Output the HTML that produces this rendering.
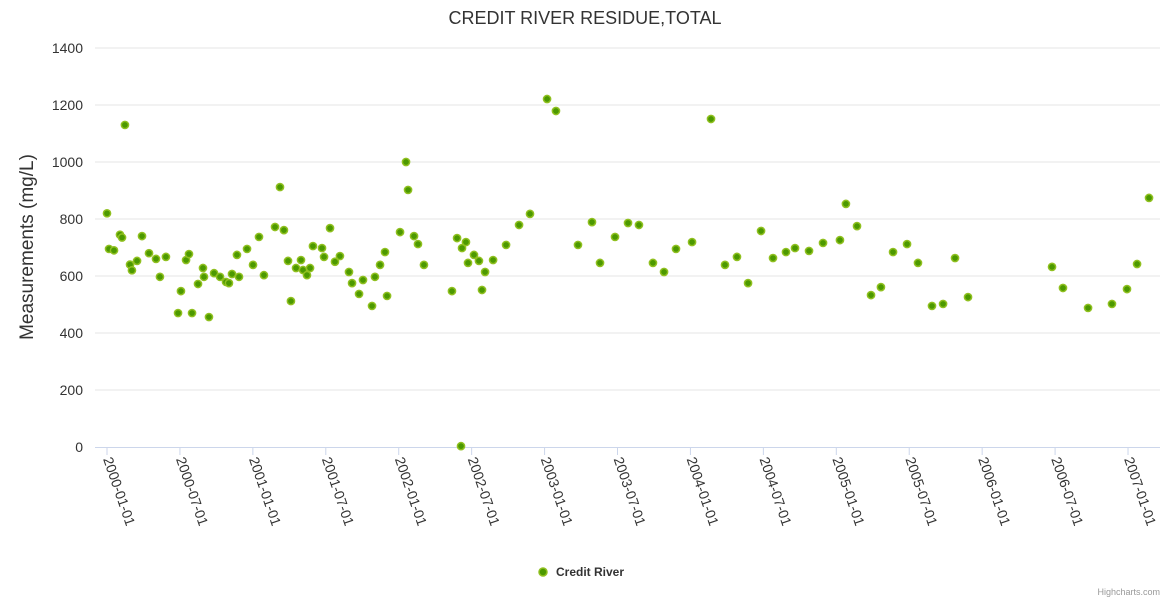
<!DOCTYPE html>
<html><head><meta charset="utf-8"><style>
body{margin:0;background:#fff;font-family:"Liberation Sans",sans-serif}
</style></head><body>
<svg id="c" width="1170" height="600" xmlns="http://www.w3.org/2000/svg" style="display:block">
<text x="585" y="24" text-anchor="middle" font-size="18" fill="#333">CREDIT RIVER RESIDUE,TOTAL</text>
<text transform="translate(33,247) rotate(-90)" text-anchor="middle" font-size="19" fill="#333">Measurements (mg/L)</text>
<g id="grid"></g><g id="xax"></g><g id="pts"></g>
<g>
<circle cx="543" cy="572" r="4" fill="#4c9900" stroke="#90c020" stroke-width="1.5"/>
<text x="556" y="576" font-size="12" font-weight="bold" fill="#333">Credit River</text></g>
<text x="1160" y="595" text-anchor="end" font-size="9" fill="#999">Highcharts.com</text>
</svg>
<script>
const yTicks=[0,200,400,600,800,1000,1200,1400];
const xTickLabels=["2000-01-01","2000-07-01","2001-01-01","2001-07-01","2002-01-01","2002-07-01","2003-01-01","2003-07-01","2004-01-01","2004-07-01","2005-01-01","2005-07-01","2006-01-01","2006-07-01","2007-01-01"];
const years=[0,.014,.048,.089,.103,.123,.158,.171,.206,.240,.288,.336,.363,.404,.487,.507,.542,.562,.583,.624,.658,.665,.699,.734,.775,.816,.836,.857,.891,.905,.960,1.001,1.042,1.076,1.152,1.186,1.213,1.241,1.261,1.296,1.330,1.344,1.371,1.392,1.412,1.474,1.488,1.529,1.563,1.597,1.659,1.680,1.728,1.755,1.817,1.837,1.872,1.906,1.920,2.009,2.050,2.064,2.105,2.132,2.173,2.365,2.400,2.427,2.434,2.461,2.475,2.516,2.550,2.571,2.592,2.647,2.736,2.825,2.900,3.017,3.078,3.229,3.325,3.380,3.483,3.572,3.647,3.743,3.819,3.901,4.011,4.141,4.237,4.319,4.395,4.484,4.566,4.655,4.717,4.813,4.909,5.025,5.066,5.142,5.238,5.306,5.389,5.485,5.560,5.656,5.732,5.814,5.903,6.479,6.554,6.726,6.890,6.993,7.062,7.144];
const values=[820,695,690,745,735,1130,640,620,653,740,680,660,597,667,470,547,656,677,470,572,628,597,456,610,597,579,575,607,674,597,695,639,737,603,772,912,761,653,512,628,656,621,603,628,705,698,667,768,650,670,614,575,537,586,495,597,639,684,530,754,1000,902,740,712,639,547,733,3,698,719,646,674,653,551,614,656,709,779,818,1221,1179,709,789,646,737,786,779,646,614,695,719,1151,639,667,575,758,663,684,698,688,716,726,853,775,533,561,684,712,646,495,502,663,526,632,558,488,502,554,642,874];
const NS="http://www.w3.org/2000/svg";
const L=95,R=1160,T=48,B=447;
const yS=v=>B-v*(B-T)/1400;
const xS=t=>107+t*145.86;
function mk(tag,a,p){const e=document.createElementNS(NS,tag);for(const k in a)e.setAttribute(k,a[k]);p.appendChild(e);return e;}
const grid=document.getElementById('grid');
yTicks.forEach(v=>{
 const y=yS(v);
 if(v>0){const l=mk('line',{x1:L,x2:R,y1:y,y2:y,stroke:'#e6e6e6'},grid);
 
 }
 const t=mk('text',{x:83,y:y+5,'text-anchor':'end','font-size':14,fill:'#333'},grid);
 
 
 t.textContent=v;
});
const xax=document.getElementById('xax');
mk('line',{x1:L,x2:R,y1:B+0.5,y2:B+0.5,stroke:'#ccd6eb'},xax);
xTickLabels.forEach((s,i)=>{
 const x=xS(i*0.5);
 mk('line',{x1:x,x2:x,y1:B,y2:B+8,stroke:'#ccd6eb'},xax);
 const t=mk('text',{transform:`translate(${x-4},${B+12}) rotate(71)`,'font-size':14,fill:'#333'},xax);
 
 
 t.textContent=s;
});
const pts=document.getElementById('pts');
years.forEach((t,i)=>{
 const c=mk('circle',{cx:xS(t),cy:yS(values[i]),r:3.6,fill:'#4c9900',stroke:'#90c020','stroke-width':1.5},pts);
 
 
});
</script>
</body></html>
